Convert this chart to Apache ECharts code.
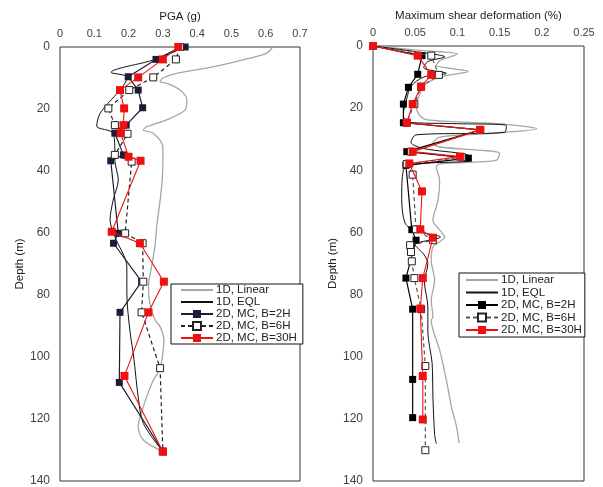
<!DOCTYPE html>
<html>
<head>
<meta charset="utf-8">
<script src="https://cdn.jsdelivr.net/npm/echarts@6/dist/echarts.min.js"></script>
<style>html,body{margin:0;padding:0;background:#fff}#c{width:603px;height:487px}</style>
</head>
<body>
<div id="c"></div>
<script>
// ---------- Left chart: PGA (g) vs depth (m) ----------
const pgaTicks = ['0', '0.1', '0.2', '0.3', '0.4', '0.5', '0.6', '0.7'];
const depthTicks = ['0', '20', '40', '60', '80', '100', '120', '140'];

const pgaLinearX = [0.62, 0.603, 0.554, 0.447, 0.34, 0.30, 0.292, 0.311, 0.35, 0.37, 0.365, 0.311, 0.253, 0.243, 0.272, 0.30, 0.30, 0.298, 0.292, 0.282, 0.277, 0.267, 0.258, 0.262, 0.277, 0.292, 0.303, 0.30, 0.292, 0.27, 0.243, 0.228, 0.243, 0.30];
const pgaLinearD = [0, 2, 3.6, 6.4, 8.5, 10, 11.2, 11.7, 13.9, 17, 20.3, 23.5, 25.7, 26.8, 27.8, 32.2, 36.5, 42.9, 49.4, 58, 64.4, 70.9, 77.3, 82.7, 88, 90.2, 94.5, 98.8, 103.6, 108, 116, 122.5, 126.8, 130.5];

const pgaEqlX = [0.35, 0.277, 0.149, 0.195, 0.117, 0.107, 0.155, 0.16, 0.16, 0.17, 0.155, 0.146, 0.16, 0.195, 0.195, 0.204, 0.215, 0.228, 0.243, 0.30];
const pgaEqlD = [0, 4, 8.2, 9.8, 21.4, 25.5, 27.8, 34.3, 36.5, 42.9, 49.4, 55.8, 61.2, 70.9, 79.5, 91.6, 100, 112.8, 121.4, 130.5];

const pga2HX = [0.365, 0.28, 0.199, 0.228, 0.241, 0.193, 0.16, 0.185, 0.148, 0.17, 0.156, 0.238, 0.175, 0.173, 0.30];
const pga2HD = [0, 4, 9.6, 13.9, 19.6, 25.2, 27.8, 34.8, 36.7, 60.1, 63.3, 75.7, 85.6, 108.2, 130.5];

const pga6HX = [0.35, 0.338, 0.272, 0.202, 0.141, 0.16, 0.197, 0.16, 0.209, 0.19, 0.241, 0.243, 0.238, 0.292, 0.30];
const pga6HD = [0, 4, 9.8, 13.9, 19.8, 25.2, 28, 34.8, 37, 60.1, 63.3, 75.7, 85.6, 103.6, 130.5];

const pga30HX = [0.345, 0.30, 0.228, 0.175, 0.187, 0.185, 0.177, 0.2, 0.235, 0.151, 0.233, 0.303, 0.258, 0.188, 0.30];
const pga30HD = [0, 4, 9.8, 13.9, 19.8, 25.2, 27.8, 35.4, 36.7, 59.6, 63.3, 75.7, 85.6, 106.1, 130.5];

// ---------- Right chart: maximum shear deformation (%) vs depth (m) ----------
const shearTicks = ['0', '0.05', '0.1', '0.15', '0.2', '0.25'];

const shLinearX = [0, 0.06, 0.1, 0.08, 0.075, 0.113, 0.091, 0.075, 0.061, 0.055, 0.051, 0.055, 0.065, 0.115, 0.158, 0.194, 0.135, 0.079, 0.071, 0.079, 0.15, 0.146, 0.079, 0.075, 0.079, 0.077, 0.071, 0.081, 0.085, 0.079, 0.071, 0.069, 0.073, 0.069, 0.071, 0.069, 0.079, 0.087, 0.093, 0.099, 0.102];
const shLinearD = [0, 1.5, 2.6, 4.6, 6.2, 8.2, 9.3, 10.4, 12.5, 15.8, 19, 22.2, 23.8, 24.6, 25.2, 26.6, 28.2, 29.3, 31.4, 32.5, 34.6, 36.8, 37.9, 38.9, 43.2, 49.7, 56.1, 59.9, 61.5, 63, 64.7, 69, 75.4, 81.9, 87.2, 88.3, 97.9, 107.6, 116.2, 122.6, 127.8];

const shEqlX = [0, 0.055, 0.085, 0.065, 0.06, 0.087, 0.06, 0.045, 0.04, 0.036, 0.04, 0.1, 0.158, 0.156, 0.051, 0.045, 0.06, 0.112, 0.115, 0.05, 0.036, 0.034, 0.038, 0.05, 0.08, 0.05, 0.06, 0.065, 0.061, 0.065, 0.065, 0.07, 0.071, 0.073, 0.075];
const shEqlD = [0, 2, 3.5, 5, 7, 8.8, 10, 13, 17, 22, 24.5, 25, 25.6, 27.8, 28.6, 31, 33, 35, 36.8, 38, 40, 49, 57, 59.5, 61.5, 64, 67, 70, 76, 84, 92, 102, 113, 125, 128];

const sh2HX = [0, 0.058, 0.053, 0.042, 0.036, 0.036, 0.127, 0.040, 0.113, 0.039, 0.046, 0.051, 0.039, 0.047, 0.047, 0.047];
const sh2HD = [0, 3.1, 9.1, 13.3, 18.7, 24.7, 27, 34, 36.1, 38.4, 59.1, 62.5, 74.7, 84.7, 107.3, 119.6];

const sh6HX = [0, 0.069, 0.078, 0.057, 0.049, 0.04, 0.127, 0.045, 0.105, 0.04, 0.047, 0.051, 0.071, 0.044, 0.045, 0.046, 0.049, 0.057, 0.062, 0.062];
const sh6HD = [0, 3.1, 9.3, 13.1, 18.7, 24.7, 27, 34, 35.8, 38, 41.4, 59, 62.5, 64.1, 66.3, 69.3, 74.7, 84.7, 103, 130.1];

const sh30HX = [0, 0.053, 0.069, 0.057, 0.047, 0.04, 0.127, 0.047, 0.103, 0.043, 0.058, 0.056, 0.071, 0.059, 0.056, 0.059, 0.059];
const sh30HD = [0, 3.1, 9.3, 13.1, 18.7, 24.7, 27, 34, 35.6, 37.8, 46.8, 59, 61.7, 74.7, 84.5, 106.2, 120.2];

const legendNames = ['1D, Linear', '1D, EQL', '2D, MC, B=2H', '2D, MC, B=6H', '2D, MC, B=30H'];
const RSUF = ' (R)';

// ---------- build ----------
const zip = (xs, ds) => xs.map((x, i) => [x, ds[i]]);
const FONT = '"Liberation Sans", Arial, sans-serif';
const RED = '#ee1111';

function seriesSet(g, suffix, dark, dash6) {
  const X = g === 0
    ? [pgaLinearX, pgaEqlX, pga2HX, pga6HX, pga30HX]
    : [shLinearX, shEqlX, sh2HX, sh6HX, sh30HX];
  const D = g === 0
    ? [pgaLinearD, pgaEqlD, pga2HD, pga6HD, pga30HD]
    : [shLinearD, shEqlD, sh2HD, sh6HD, sh30HD];
  const base = { type: 'line', xAxisIndex: g, yAxisIndex: g, animation: false, silent: true };
  return [
    Object.assign({}, base, { name: legendNames[0] + suffix, data: zip(X[0], D[0]), symbol: 'none', smooth: 0.3,
      color: '#a6a6a6', lineStyle: { color: '#a6a6a6', width: 1.3 }, z: 2 }),
    Object.assign({}, base, { name: legendNames[1] + suffix, data: zip(X[1], D[1]), symbol: 'none', smooth: 0.3,
      color: '#111', lineStyle: { color: '#111', width: 1 }, z: 3 }),
    Object.assign({}, base, { name: legendNames[2] + suffix, data: zip(X[2], D[2]), symbol: 'rect', symbolSize: 7,
      color: dark, itemStyle: { color: dark }, lineStyle: { color: dark, width: 1.2 }, z: 4 }),
    Object.assign({}, base, { name: legendNames[3] + suffix, data: zip(X[3], D[3]), symbol: 'rect', symbolSize: 7,
      color: '#222', itemStyle: { color: '#fff', borderColor: '#222', borderWidth: 1 },
      lineStyle: { color: dash6, width: 1.2, type: [4, 3] }, z: 5 }),
    Object.assign({}, base, { name: legendNames[4] + suffix, data: zip(X[4], D[4]), symbol: 'rect', symbolSize: 8,
      color: RED, itemStyle: { color: RED }, lineStyle: { color: RED, width: 1.1 }, z: 6 })
  ];
}

function xAx(g, name, max, interval, ticks, nameGap) {
  return {
    gridIndex: g, type: 'value', position: 'top', min: 0, max: max, interval: interval,
    name: name, nameLocation: 'middle', nameGap: nameGap,
    nameTextStyle: { fontSize: 11.5, color: '#222', fontFamily: FONT },
    axisLine: { show: false }, axisTick: { show: false }, splitLine: { show: false },
    axisLabel: { fontSize: 11, color: '#404040', margin: 8, fontFamily: FONT,
      formatter: (v) => ticks[Math.round(v / interval)] }
  };
}
function yAx(g, nameGap) {
  return {
    gridIndex: g, type: 'value', inverse: true, min: 0, max: 140, interval: 20,
    name: 'Depth (m)', nameLocation: 'middle', nameGap: nameGap,
    nameTextStyle: { fontSize: 11.5, color: '#222', fontFamily: FONT },
    axisLine: { show: false }, axisTick: { show: false }, splitLine: { show: false },
    axisLabel: { fontSize: 12, color: '#404040', margin: 10, fontFamily: FONT,
      formatter: (v) => depthTicks[Math.round(v / 20)] }
  };
}
function legendCfg(left, top, suffix, gap, pad) {
  return {
    left: left, top: top, orient: 'vertical', selectedMode: false,
    itemWidth: 32, itemHeight: 10, itemGap: gap, padding: pad,
    borderColor: '#111', borderWidth: 1, backgroundColor: '#fff', z: 20,
    textStyle: { fontSize: 11.5, color: '#222', fontFamily: FONT, lineHeight: 12, padding: [0, 0, 0, -2] },
    data: legendNames.map((n, i) => i < 2
      ? { name: n + suffix, itemStyle: { opacity: 0 } }
      : { name: n + suffix }),
    formatter: (n) => n.replace(RSUF, '')
  };
}

const chart = echarts.init(document.getElementById('c'), null, { renderer: 'canvas' });
chart.setOption({
  animation: false,
  backgroundColor: '#fff',
  textStyle: { fontFamily: FONT },
  grid: [
    { left: 60, top: 47, width: 240, height: 434, show: true, borderColor: '#333', borderWidth: 1, backgroundColor: 'transparent' },
    { left: 373, top: 46, width: 211, height: 435, show: true, borderColor: '#333', borderWidth: 1, backgroundColor: 'transparent' }
  ],
  xAxis: [xAx(0, 'PGA (g)', 0.7, 0.1, pgaTicks, 20), xAx(1, 'Maximum shear deformation (%)', 0.25, 0.05, shearTicks, 23)],
  yAxis: [yAx(0, 30), yAx(1, 31)],
  legend: [legendCfg(171, 284, '', 0, [0, 6, 0, 9]), legendCfg(459, 273, RSUF, 0.5, [1, 3, 1, 6])],
  series: [].concat(seriesSet(0, '', '#1c1c3a', '#222'), seriesSet(1, RSUF, '#000', '#555'))
});
</script>
</body>
</html>
